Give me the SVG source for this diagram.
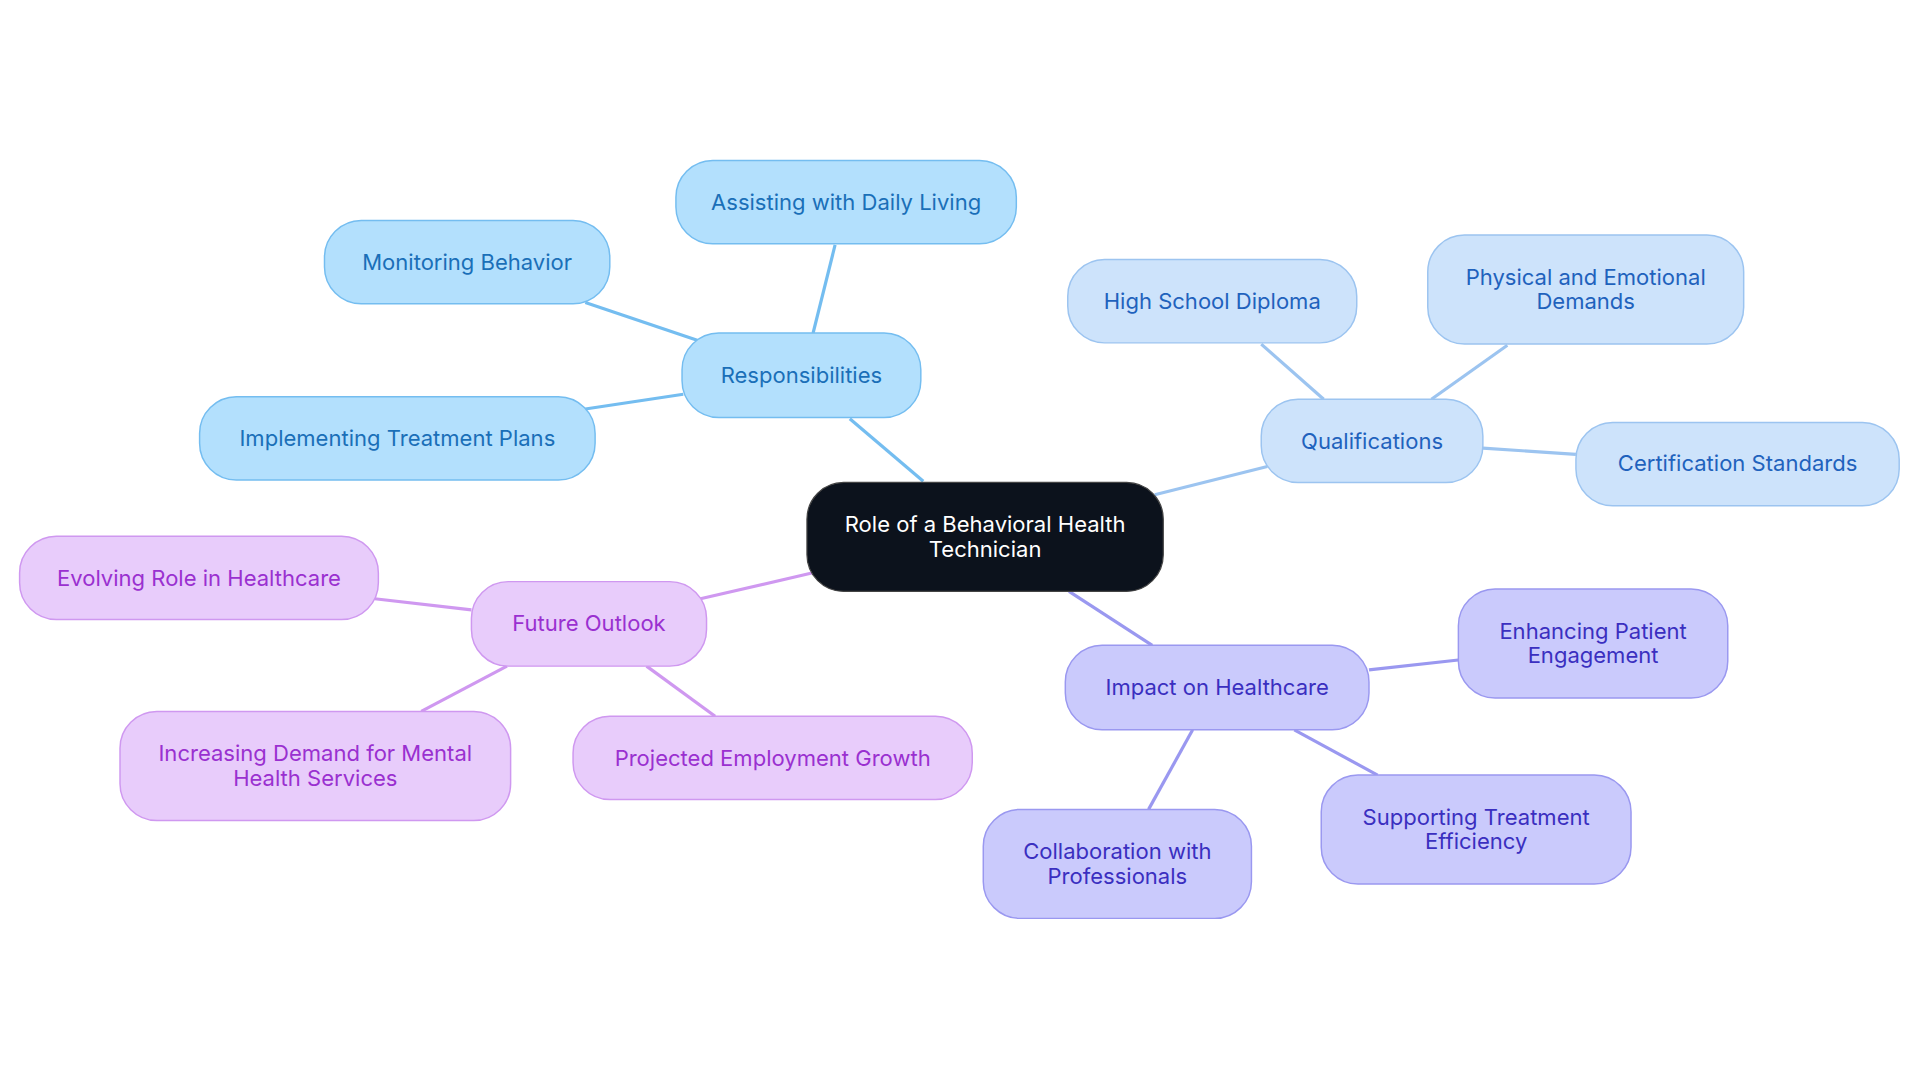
<svg xmlns="http://www.w3.org/2000/svg" width="1920" height="1083" viewBox="0 0 1920 1083">
<style>
text{font-family:Inter,"Liberation Sans",sans-serif;font-size:18px;text-anchor:middle;dominant-baseline:central}
.b rect{fill:#b3e0fd;stroke:#74bdf0;stroke-width:1.2}.b text{fill:#1a6fb8}
.q rect{fill:#cde3fb;stroke:#9cc4f0;stroke-width:1.2}.q text{fill:#1f62bd}
.i rect{fill:#cacafc;stroke:#9a98f0;stroke-width:1.2}.i text{fill:#3a2fc0}
.f rect{fill:#e8ccfb;stroke:#cf98f0;stroke-width:1.2}.f text{fill:#9a30d0}
.eb{stroke:#74bdf0}.eq{stroke:#9cc4f0}.ei{stroke:#9a98f0}.ef{stroke:#cf98f0}
#edges line{stroke-width:2.6}
</style>
<rect width="1920" height="1083" fill="#fff"/>
<g transform="scale(1.2245)">
<g id="edges">
<line class="eb" x1="754" y1="393" x2="694" y2="342"/>
<line class="eb" x1="664" y1="272" x2="682" y2="200"/>
<line class="eb" x1="570" y1="278" x2="478" y2="247"/>
<line class="eb" x1="558" y1="322" x2="478" y2="334"/>
<line class="eq" x1="943" y1="404" x2="1035" y2="381"/>
<line class="eq" x1="1081" y1="326" x2="1030" y2="281"/>
<line class="eq" x1="1169" y1="326" x2="1231" y2="282"/>
<line class="eq" x1="1211" y1="366" x2="1287" y2="371"/>
<line class="ei" x1="873" y1="483" x2="941" y2="527"/>
<line class="ei" x1="1118" y1="547" x2="1191" y2="539"/>
<line class="ei" x1="1057" y1="596" x2="1125" y2="633"/>
<line class="ei" x1="974" y1="596" x2="938" y2="661"/>
<line class="ef" x1="663" y1="468" x2="572" y2="489"/>
<line class="ef" x1="385" y1="498" x2="306" y2="489"/>
<line class="ef" x1="414" y1="544" x2="344" y2="581"/>
<line class="ef" x1="528" y1="544" x2="584" y2="585"/>
</g>
<g id="center"><rect x="659" y="394" width="291" height="89" rx="30" fill="#0c121c" stroke="#444" stroke-width="1"/><text x="804.5" y="428" fill="#fff">Role of a Behavioral Health</text><text x="804.5" y="448" fill="#fff">Technician</text></g>
<g id="resp" class="b"><rect x="557" y="272" width="195" height="69" rx="30"/><text x="654.5" y="306">Responsibilities</text></g>
<g id="assist" class="b"><rect x="552" y="131" width="278" height="68" rx="30"/><text x="691" y="165">Assisting with Daily Living</text></g>
<g id="monitor" class="b"><rect x="265" y="180" width="233" height="68" rx="30"/><text x="381.5" y="214">Monitoring Behavior</text></g>
<g id="impl" class="b"><rect x="163" y="324" width="323" height="68" rx="30"/><text x="324.5" y="358">Implementing Treatment Plans</text></g>
<g id="qual" class="q"><rect x="1030" y="326" width="181" height="68" rx="30"/><text x="1120.5" y="360">Qualifications</text></g>
<g id="hs" class="q"><rect x="872" y="212" width="236" height="68" rx="30"/><text x="990" y="246">High School Diploma</text></g>
<g id="phys" class="q"><rect x="1166" y="192" width="258" height="89" rx="30"/><text x="1295" y="226">Physical and Emotional</text><text x="1295" y="246">Demands</text></g>
<g id="cert" class="q"><rect x="1287" y="345" width="264" height="68" rx="30"/><text x="1419" y="378">Certification Standards</text></g>
<g id="impact" class="i"><rect x="870" y="527" width="248" height="69" rx="30"/><text x="994" y="561">Impact on Healthcare</text></g>
<g id="enh" class="i"><rect x="1191" y="481" width="220" height="89" rx="30"/><text x="1301" y="515">Enhancing Patient</text><text x="1301" y="535">Engagement</text></g>
<g id="supp" class="i"><rect x="1079" y="633" width="253" height="89" rx="30"/><text x="1205.5" y="667">Supporting Treatment</text><text x="1205.5" y="687">Efficiency</text></g>
<g id="collab" class="i"><rect x="803" y="661" width="219" height="89" rx="30"/><text x="912.5" y="695">Collaboration with</text><text x="912.5" y="715">Professionals</text></g>
<g id="future" class="f"><rect x="385" y="475" width="192" height="69" rx="30"/><text x="481" y="509">Future Outlook</text></g>
<g id="evolve" class="f"><rect x="16" y="438" width="293" height="68" rx="30"/><text x="162.5" y="472">Evolving Role in Healthcare</text></g>
<g id="incr" class="f"><rect x="98" y="581" width="319" height="89" rx="30"/><text x="257.5" y="615">Increasing Demand for Mental</text><text x="257.5" y="635">Health Services</text></g>
<g id="proj" class="f"><rect x="468" y="585" width="326" height="68" rx="30"/><text x="631" y="619">Projected Employment Growth</text></g>
</g>
</svg>
